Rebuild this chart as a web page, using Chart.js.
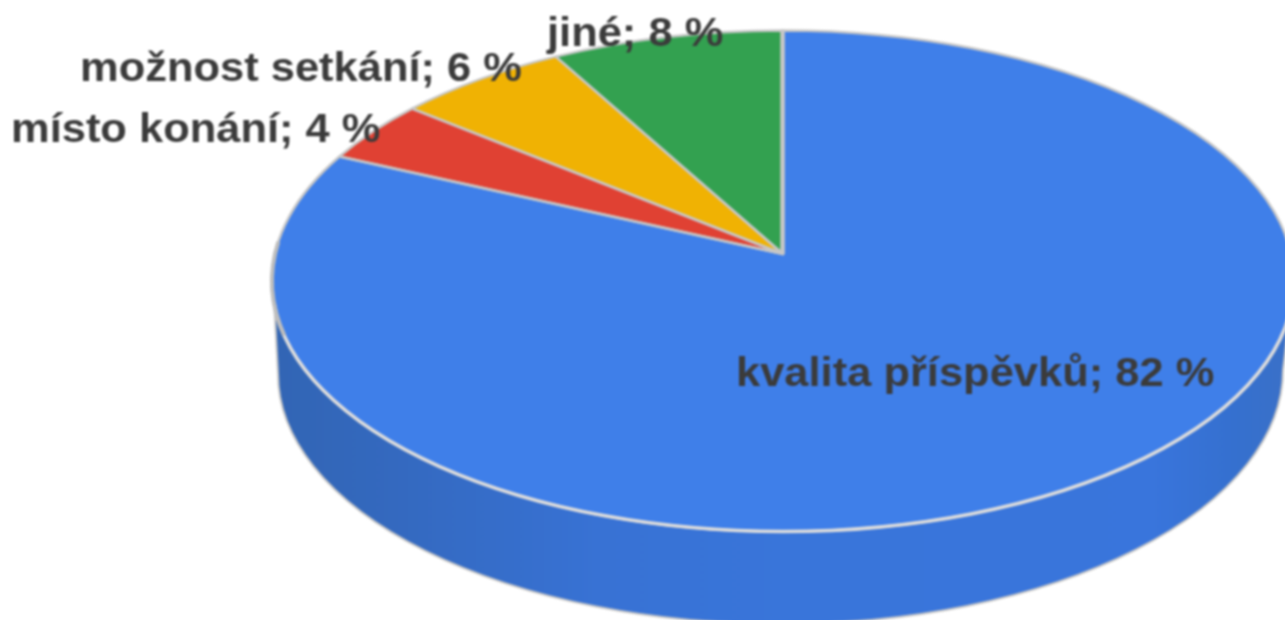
<!DOCTYPE html>
<html lang="cs">
<head>
<meta charset="utf-8">
<style>
html,body{margin:0;padding:0;background:#fff;overflow:hidden;width:1285px;height:620px}
canvas{display:block;filter:blur(0.8px)}
</style>
<script src="https://cdn.jsdelivr.net/npm/chart.js@4"></script>
</head>
<body>
<canvas id="c" width="1305" height="650"></canvas>
<script>
const categories = ['kvalita příspěvků', 'místo konání', 'možnost setkání', 'jiné'];
const shares = [82, 4, 6, 8];
const colours = ['#3f7fe9', '#e04133', '#f0b203', '#33a150'];

// Drawing geometry of the tilted disc
const TOP = {cx: 783, cy: 281, rx: 511, ry: 250.5};
const BASE = {cx: 781, cy: 374, rxLeft: 503, ry: 250};
const BASE_RIGHT = {cx: 781, cy: 370, rx: 502, ry: 254};
const TILT = 0.09;
const APEX = {x: 783, y: 254};
const EDGE = '#c6c6c6';
const LABEL_AT = [[736, 386], [11, 142], [80, 81], [547, 46]];
const LABEL_STRETCH = 1.06;

function project(a) {
  const u = Math.cos(a), v = -Math.sin(a), w = 1 + TILT * v;
  const pu = u * Math.sqrt(1 - TILT * TILT) / w, pv = (v + TILT) / w;
  return {x: TOP.cx + TOP.rx * pu, y: TOP.cy - TOP.ry * pv, t: Math.atan2(-pv, pu)};
}

const tiltedPie = {
  id: 'tiltedPie',
  beforeDatasetsDraw(chart) {
    const ctx = chart.ctx;
    const arcs = chart.getDatasetMeta(0).data;

    // side wall
    const g = ctx.createLinearGradient(270, 0, 1285, 0);
    [[0, '#3265b4'], [0.12, '#3469bf'], [0.32, '#3872d4'], [0.5, '#3975da'],
     [0.87, '#3975dc'], [0.95, '#3570cf'], [1, '#3a70c8']].forEach(s => g.addColorStop(s[0], s[1]));
    ctx.beginPath();
    ctx.ellipse(BASE_RIGHT.cx, BASE_RIGHT.cy, BASE_RIGHT.rx, BASE_RIGHT.ry, 0, 0, Math.PI / 2);
    ctx.ellipse(BASE.cx, BASE.cy, BASE.rxLeft, BASE.ry, 0, Math.PI / 2, Math.PI);
    ctx.lineTo(TOP.cx - TOP.rx + 2, TOP.cy + 20);
    ctx.ellipse(TOP.cx, TOP.cy, TOP.rx, TOP.ry, 0, Math.PI, 0, true);
    ctx.closePath();
    ctx.fillStyle = g;
    ctx.fill();
    ctx.strokeStyle = EDGE;
    ctx.lineWidth = 2;
    ctx.stroke();

    // top slices, from the angles the pie controller computed
    const outline = arc => {
      const s = project(arc.startAngle), e = project(arc.endAngle);
      ctx.beginPath();
      ctx.moveTo(APEX.x, APEX.y);
      ctx.lineTo(s.x, s.y);
      ctx.ellipse(TOP.cx, TOP.cy, TOP.rx, TOP.ry, 0, s.t, e.t, false);
      ctx.closePath();
    };
    arcs.forEach(arc => { outline(arc); ctx.fillStyle = arc.options.backgroundColor; ctx.fill(); });
    arcs.forEach(arc => {
      outline(arc);
      ctx.strokeStyle = arc.options.borderColor;
      ctx.lineWidth = arc.options.borderWidth;
      ctx.lineJoin = 'round';
      ctx.stroke();
    });

    // lit front rim and the heavier seam at twelve o'clock
    ctx.beginPath();
    ctx.ellipse(TOP.cx, TOP.cy, TOP.rx, TOP.ry, 0, 0, Math.PI * 0.97);
    ctx.lineWidth = 3.6;
    ctx.strokeStyle = '#dcdcdc';
    ctx.stroke();
    ctx.beginPath();
    ctx.ellipse(TOP.cx, TOP.cy, TOP.rx, TOP.ry, 0, Math.PI * 0.93, Math.PI * 1.05);
    ctx.lineWidth = 4;
    ctx.strokeStyle = '#bdbdbd';
    ctx.stroke();
    ctx.beginPath();
    ctx.moveTo(APEX.x - 0.5, APEX.y);
    ctx.lineTo(APEX.x - 0.5, TOP.cy - TOP.ry);
    ctx.lineWidth = 4.5;
    ctx.strokeStyle = EDGE;
    ctx.stroke();

    // labels
    ctx.font = 'bold 41px "Liberation Sans"';
    ctx.fillStyle = '#3b3b3b';
    ctx.textAlign = 'left';
    ctx.textBaseline = 'alphabetic';
    categories.forEach((name, i) => {
      ctx.save();
      ctx.translate(LABEL_AT[i][0], LABEL_AT[i][1]);
      ctx.scale(LABEL_STRETCH, 1);
      ctx.fillText(name + '; ' + shares[i] + ' %', 0, 0);
      ctx.restore();
    });
    return false;
  }
};

new Chart(document.getElementById('c'), {
  type: 'pie',
  data: {
    labels: categories,
    datasets: [{data: shares, backgroundColor: colours, borderColor: EDGE, borderWidth: 2.5}]
  },
  options: {
    responsive: false,
    animation: false,
    events: [],
    plugins: {legend: {display: false}, tooltip: {enabled: false}, title: {display: false}}
  },
  plugins: [tiltedPie]
});
</script>
</body>
</html>
